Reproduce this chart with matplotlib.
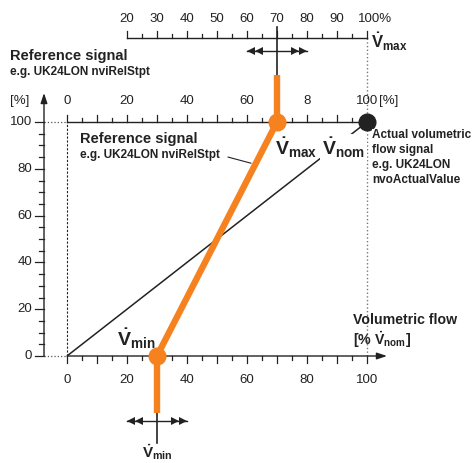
import numpy as np
import matplotlib.pyplot as plt

plt.rcParams['font.family'] = ['Liberation Sans', 'DejaVu Sans']
plt.rcParams['mathtext.fontset'] = 'custom'
plt.rcParams['mathtext.rm'] = 'Liberation Sans'
plt.rcParams['mathtext.bf'] = 'Liberation Sans:bold'
plt.rcParams['mathtext.it'] = 'Liberation Sans:italic'

ORANGE = '#f5821f'
INK = '#222222'

# characteristic: reference signal [%] -> volumetric flow [% Vnom]
ref_signal = [0, 100]
vmin = 30
vmax = 70
flow = [vmin, vmax]
nom_flow = [0, 100]
nom_ref = [0, 100]

y_ticks = [0, 20, 40, 60, 80, 100]
x_ticks = [0, 20, 40, 60, 80, 100]
top_ticks = [0, 20, 40, 60, 80, 100]
top_labels = ['0', '20', '40', '60', '8', '100']   # '8' as printed in the original
vmax_ticks = [20, 30, 40, 50, 60, 70, 80, 90, 100]
vmax_labels = ['20', '30', '40', '50', '60', '70', '80', '90', '100%']

# pixel scale of the plot area (3 px per x unit, 2.34 px per y unit)
SX = 3.0
SY = 2.34

fig = plt.figure(figsize=(4.73, 4.63), dpi=100)
ax = fig.add_axes([67 / 473, 107 / 463, 300 / 473, 234 / 463])
ax.set_xlim(0, 100)
ax.set_ylim(0, 100)
ax.axis('off')

YAX = -23 / SX          # y axis sits left of the 0 line
SCALE_Y = 318 / SY      # V_max scale above the chart
tick_font = dict(fontsize=9.5, color=INK)

# left axis with arrow
ax.annotate('', xy=(YAX, 263 / SY), xytext=(YAX, 0), annotation_clip=False,
            arrowprops=dict(arrowstyle='-|>,head_length=0.6,head_width=0.2', lw=1, color=INK,
                            shrinkA=0, shrinkB=0))
for v in np.arange(0, 101, 5):
    ln = 9 / SX if v % 20 == 0 else 5 / SX
    ax.plot([YAX - ln, YAX], [v, v], color=INK, lw=0.9, clip_on=False)
for v in y_ticks:
    ax.text(YAX - 12 / SX, v, str(v), ha='right', va='center', **tick_font)
ax.text(YAX - 24 / SX, 100 + 21 / SY, '[%]', ha='center', va='center', **tick_font)

# bottom axis with arrow
ax.annotate('', xy=(320 / SX, 0), xytext=(0, 0), annotation_clip=False,
            arrowprops=dict(arrowstyle='-|>,head_length=0.6,head_width=0.2', lw=1, color=INK,
                            shrinkA=0, shrinkB=0))
for v in np.arange(0, 101, 5):
    ln = 7 / SY if v % 10 == 0 else 4 / SY
    ax.plot([v, v], [0, -ln], color=INK, lw=0.9, clip_on=False)
for v in x_ticks:
    ax.text(v, -24 / SY, str(v), ha='center', va='center', **tick_font)

# top axis at 100 %
ax.plot([0, 100], [100, 100], color=INK, lw=1, clip_on=False)
for v in np.arange(0, 101, 5):
    ln = 7 / SY if v % 10 == 0 else 4 / SY
    ax.plot([v, v], [100, 100 + ln], color=INK, lw=0.9, clip_on=False)
for v, lab in zip(top_ticks, top_labels):
    ax.text(v, 100 + 21 / SY, lab, ha='center', va='center', **tick_font)
ax.text(100 + 22 / SX, 100 + 21 / SY, '[%]', ha='center', va='center', **tick_font)

# dotted guides
ax.plot([YAX, 0], [100, 100], ':', color='#555555', lw=0.9, clip_on=False)
ax.plot([YAX, 0], [0, 0], ':', color='#555555', lw=0.9, clip_on=False)
ax.plot([0, 0], [0, 100], color=INK, lw=0.8, ls=(0, (2, 1.5)), clip_on=False)
ax.plot([100, 100], [0, SCALE_Y], ':', color='#777777', lw=1, clip_on=False)

# V_max adjustment scale
ax.plot([vmax_ticks[0], vmax_ticks[-1]], [SCALE_Y, SCALE_Y], color=INK, lw=1, clip_on=False)
for v in np.arange(vmax_ticks[0], vmax_ticks[-1] + 1, 5):
    ln = 7 / SY if v % 10 == 0 else 4 / SY
    ax.plot([v, v], [SCALE_Y, SCALE_Y + ln], color=INK, lw=0.9, clip_on=False)
for v, lab in zip(vmax_ticks, vmax_labels):
    if lab.endswith('%'):
        ax.text(v - 9 / SX, SCALE_Y + 19 / SY, lab, ha='left', va='center', **tick_font)
    else:
        ax.text(v, SCALE_Y + 19 / SY, lab, ha='center', va='center', **tick_font)
ax.text(100 + 4 / SX, SCALE_Y - 4 / SY, r'$\mathbf{\dot{V}_{max}}$', ha='left', va='center',
        fontsize=12, color=INK)

# nominal line (reference signal = actual flow signal)
ax.plot(nom_flow, nom_ref, color=INK, lw=1.1, zorder=2)
ax.plot(nom_flow[-1], nom_ref[-1], 'o', ms=12, color=INK, zorder=5, clip_on=False)

# characteristic with the two adjusters
ax.plot(flow, ref_signal, color=ORANGE, lw=4.6, solid_capstyle='butt', zorder=4)
ax.plot([vmax, vmax], [100, 100 + 47 / SY], color=ORANGE, lw=4.6, solid_capstyle='butt',
        zorder=4, clip_on=False)
ax.plot([vmin, vmin], [0, -57 / SY], color=ORANGE, lw=4.6, solid_capstyle='butt',
        zorder=4, clip_on=False)
ax.plot(flow, ref_signal, 'o', ms=12, color=ORANGE, zorder=5, clip_on=False)
ax.plot([vmax, vmax], [100 + 47 / SY, 100 + 95 / SY], color=INK, lw=1.2, clip_on=False)
ax.plot([vmin, vmin], [-57 / SY, -87 / SY], color=INK, lw=1.2, clip_on=False)

# double arrows showing the adjustment range
for xc, ya in [(vmax, SCALE_Y - 13 / SY), (vmin, -65 / SY)]:
    ax.plot([xc - 10, xc + 10], [ya, ya], color=INK, lw=1, clip_on=False)
    for off in (1.4, 4.1):
        ax.plot(xc - 10 + off, ya, '<', ms=5.5, color=INK, mew=0, clip_on=False)
        ax.plot(xc + 10 - off, ya, '>', ms=5.5, color=INK, mew=0, clip_on=False)
ax.text(vmin, -96 / SY, r'$\mathbf{\dot{V}_{min}}$', ha='center', va='center',
        fontsize=11, color=INK)

# labels
ax.text(YAX - 34 / SX, 128.2, 'Reference signal', ha='left', va='center', fontsize=10.5,
        fontweight='bold', color=INK)
ax.text(YAX - 34 / SX, 121.4, 'e.g. UK24LON nviRelStpt', ha='left', va='center', fontsize=8.5,
        fontweight='bold', color=INK)
ax.text(4.3, 92.7, 'Reference signal', ha='left', va='center', fontsize=10.5,
        fontweight='bold', color=INK)
ax.text(4.3, 85.9, 'e.g. UK24LON nviRelStpt', ha='left', va='center', fontsize=8.5,
        fontweight='bold', color=INK)
ax.plot([53.7, 61.3], [85.0, 82.4], color=INK, lw=0.8)

ax.text(vmax - 0.7, 88.9, r'$\mathbf{\dot{V}_{max}}$', ha='left', va='center', fontsize=14,
        color=INK, zorder=6)
ax.text(85, 88.9, r'$\mathbf{\dot{V}_{nom}}$', ha='left', va='center', fontsize=14,
        color=INK, zorder=6, bbox=dict(boxstyle='square,pad=0.1', fc='white', ec='none'))
ax.text(vmin - 13.3, 7.2, r'$\mathbf{\dot{V}_{min}}$', ha='left', va='center', fontsize=14,
        color=INK, zorder=6)

for i, line in enumerate(['Actual volumetric', 'flow signal', 'e.g. UK24LON', 'nvoActualValue']):
    ax.text(101.7, 94.4 - i * 6.4, line, ha='left', va='center', fontsize=8.5,
            fontweight='bold', color=INK, zorder=6,
            bbox=dict(boxstyle='square,pad=0.05', fc='white', ec='none'))

ax.text(95.3, 15.4, 'Volumetric flow', ha='left', va='center', fontsize=10.2,
        fontweight='bold', color=INK)
ax.text(95.3, 6.8, r'[% $\mathbf{\dot{V}_{nom}}$]', ha='left', va='center', fontsize=10.2,
        fontweight='bold', color=INK)

fig.savefig('out.png', dpi=100)
